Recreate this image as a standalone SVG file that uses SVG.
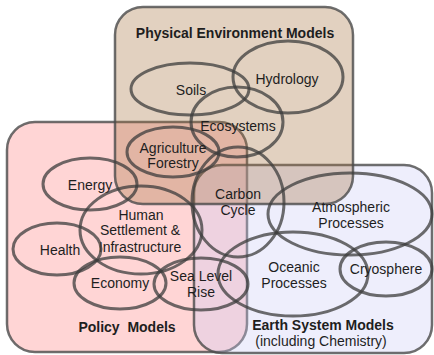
<svg xmlns="http://www.w3.org/2000/svg" width="434" height="355" viewBox="0 0 434 355">
<style>
text{font-family:"Liberation Sans",Arial,sans-serif;font-size:14px;fill:#1e1e1e;text-anchor:middle}
.t{font-weight:bold}
.box{stroke:#4a4a4a;stroke-opacity:0.8;stroke-width:2.5}
.ell{fill:none;stroke:#3c3c3c;stroke-opacity:0.75;stroke-width:3}
</style>
<rect width="434" height="355" fill="#ffffff"/>
<g id="policy-models">
<rect class="box" x="7" y="122" width="240" height="230" rx="28" fill="#ff8080" fill-opacity="0.33"/>
<text class="t" x="127" y="332" xml:space="preserve">Policy  Models</text>
</g>
<g id="earth-system-models">
<rect class="box" x="194" y="165" width="238" height="188" rx="28" fill="#ccccf5" fill-opacity="0.33"/>
<text class="t" x="323" y="330">Earth System Models</text>
<text x="321" y="346">(including Chemistry)</text>
</g>
<g id="physical-environment-models">
<rect class="box" x="115" y="7" width="238" height="197" rx="28" fill="#a8743f" fill-opacity="0.33"/>
<text class="t" x="235" y="38">Physical Environment Models</text>
</g>
<g id="soils"><ellipse class="ell" cx="190" cy="89" rx="59" ry="26"/><text x="191" y="95">Soils</text></g>
<g id="hydrology"><ellipse class="ell" cx="288" cy="77" rx="55" ry="36"/><text x="287" y="84">Hydrology</text></g>
<g id="ecosystems"><ellipse class="ell" cx="237" cy="122" rx="46" ry="35"/><text x="238" y="131">Ecosystems</text></g>
<g id="agriculture-forestry"><ellipse class="ell" cx="173" cy="152" rx="46" ry="25"/><text x="173" y="153">Agriculture</text><text x="173" y="168">Forestry</text></g>
<g id="carbon-cycle"><ellipse class="ell" cx="238" cy="202" rx="46" ry="55"/><text x="238" y="199">Carbon</text><text x="238" y="215">Cycle</text></g>
<g id="energy"><ellipse class="ell" cx="90" cy="184" rx="47" ry="26"/><text x="90" y="190">Energy</text></g>
<g id="human-settlement"><ellipse class="ell" cx="141" cy="230" rx="61" ry="44"/><text x="141" y="220">Human</text><text x="140" y="235">Settlement &amp;</text><text x="140" y="252">Infrastructure</text></g>
<g id="health"><ellipse class="ell" cx="57" cy="249" rx="44" ry="26"/><text x="60" y="255">Health</text></g>
<g id="economy"><ellipse class="ell" cx="120" cy="283" rx="46" ry="26"/><text x="120" y="288">Economy</text></g>
<g id="sea-level-rise"><ellipse class="ell" cx="201" cy="284" rx="47" ry="26"/><text x="201" y="281">Sea Level</text><text x="201" y="297">Rise</text></g>
<g id="atmospheric-processes"><ellipse class="ell" cx="350" cy="214" rx="82" ry="41"/><text x="351" y="212">Atmospheric</text><text x="351" y="228">Processes</text></g>
<g id="oceanic-processes"><ellipse class="ell" cx="293" cy="274" rx="75" ry="42"/><text x="294" y="272">Oceanic</text><text x="294" y="288">Processes</text></g>
<g id="cryosphere"><ellipse class="ell" cx="386" cy="269" rx="46" ry="27"/><text x="386" y="274">Cryosphere</text></g>
</svg>
